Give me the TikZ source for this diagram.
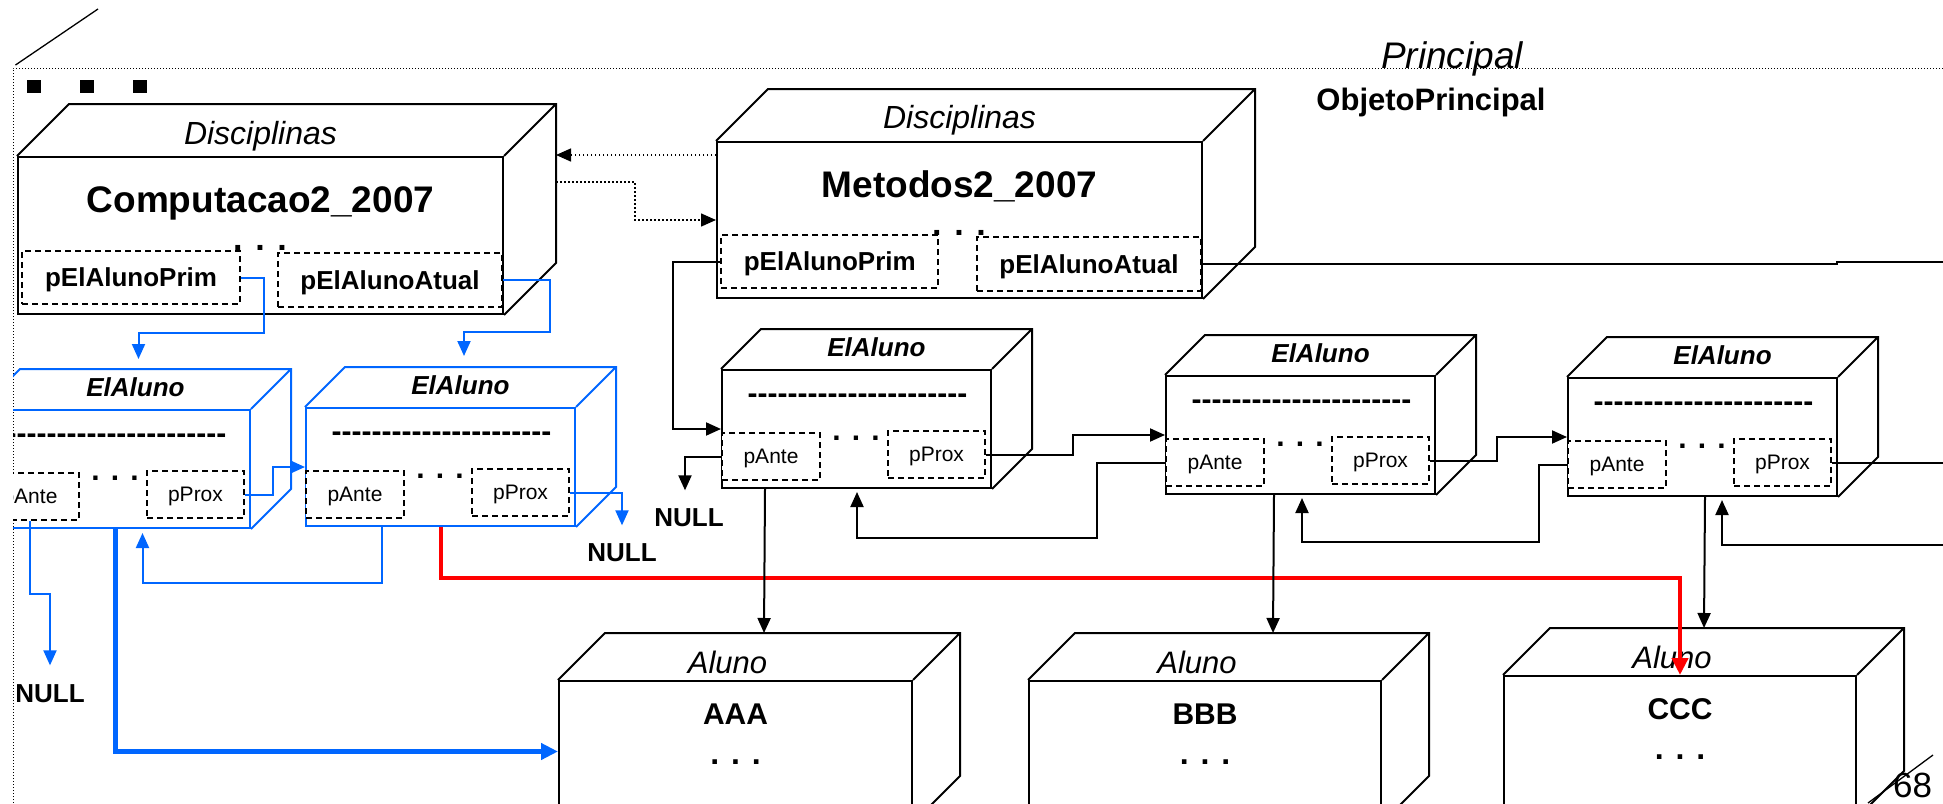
\documentclass[tikz,border=0pt]{standalone}
\usepackage{fontspec}
\setmainfont{Liberation Sans}
\usetikzlibrary{arrows.meta,calc}
\definecolor{elblue}{RGB}{0,102,255}
\definecolor{elred}{RGB}{255,0,0}
\newcommand{\fsz}[1]{\fontsize{#1pt}{#1pt}\selectfont}
\newcommand{\hyphenrow}{\foreach \k in {1,...,22}{-\kern0pt}}
\newcommand{\backfaces}[3][]{%
  \draw[cubeline,#1] (#2.north west) -- ++(#3,-#3) coordinate (#2-back)
    -| ($(#2.south east)+(#3,-#3)$) -- (#2.south east)
    (#2.north east) -- ++(#3,-#3);}
\tikzset{cubeline/.style={line width=2pt},
         face/.style={draw,cubeline,inner sep=0pt},
         toplabel/.style={anchor=base,inner sep=0pt,font=\fsz{32}\itshape},
         bigname/.style={anchor=base,inner sep=0pt,font=\fsz{37}\bfseries},
         bigdots/.style={anchor=base,inner sep=0pt,font=\fsz{34}\bfseries},
         fieldbox/.style={draw,line width=1.8pt,dash pattern=on 6pt off 4pt,fill=white,
                          inner sep=0pt,text depth=0pt},
         ptrbig/.style={fieldbox,font=\fsz{26}\bfseries},
         antebox/.style={fieldbox,font=\fsz{21},minimum width=98pt,minimum height=47pt},
         proxbox/.style={fieldbox,font=\fsz{21},minimum width=97pt,minimum height=47pt},
         elface/.style={face,minimum width=269pt,minimum height=118pt},
         elname/.style={anchor=base,inner sep=0pt,font=\fsz{26}\bfseries\itshape},
         elrow/.style={anchor=base,inner sep=0pt,font=\fsz{30}\bfseries},
         eldots/.style={anchor=base,inner sep=0pt,font=\fsz{30}\bfseries},
         alface/.style={face,minimum width=352pt,minimum height=141pt},
         allabel/.style={anchor=base,inner sep=0pt,font=\fsz{31}\itshape},
         alname/.style={anchor=base,inner sep=0pt,font=\fsz{30}\bfseries},
         aldots/.style={anchor=base,inner sep=0pt,font=\fsz{32}\bfseries},
         nulltext/.style={inner sep=0pt,text depth=0pt,font=\fsz{26}\bfseries},
         frameline/.style={line width=1pt,dash pattern=on 1pt off 2pt},
         link/.style={line width=2pt},
         linkarrow/.style={link,-{Triangle[length=15pt,width=13pt]}},
         bluearrow/.style={linkarrow,elblue},
         dotarrow/.style={line width=1.5pt,dash pattern=on 1.5pt off 2.5pt,
                          -{Triangle[length=15pt,width=13pt]}},
         heavyarrow/.style={line width=4.5pt,-{Triangle[length=17pt,width=16pt]}}}

\begin{document}
\begin{tikzpicture}[x=1pt,y=-1pt]
  \useasboundingbox (0,0) rectangle (1943,803);
  \clip (0,0) rectangle (1943,803);
  % slide frame
  \draw[line width=1.3pt] (15.5,65) -- (98,9);
  \draw[line width=1.3pt] (1868,803) -- (1933,755);
  \draw[frameline] (13,803) -- (13,68) -- (1943,68);
  \fill (27,80) rectangle (41,93);
  \fill (80,80) rectangle (94,93);
  \fill (133,80) rectangle (147,93);
  \node[anchor=base,font=\fsz{37}\itshape] (princ) at (1452,68) {Principal};
  \node[anchor=base,font=\fsz{31}\bfseries] (objp) at (1431,110) {ObjetoPrincipal};
  \node[anchor=base,font=\fsz{35}] (pgno) at (1912.5,797) {68};
  \coordinate (edgeA) at (1943,262);
  \coordinate (edgeB) at (1943,462.5);
  \coordinate (edgeC) at (1943,544.5);

  % Disciplinas objects
  \node[face,minimum width=485pt,minimum height=157pt] (c) at (260.5,235.5) {};
  \backfaces{c}{52}
  \node[toplabel] (cname) at (260.5,144) {Disciplinas};
  \node[bigname] (ctitle) at (260.5,212) {Computacao2\_2007};
  \node[bigdots] (cdots) at (260,250) {. . .};
  \node[ptrbig,minimum width=218pt,minimum height=53pt] (cprim) at (131,277.5) {pElAlunoPrim};
  \node[ptrbig,minimum width=224pt,minimum height=54pt] (catual) at (390,280) {pElAlunoAtual};

  \node[face,minimum width=485pt,minimum height=156pt] (m) at (959.5,220) {};
  \backfaces{m}{52}
  \node[toplabel] (mname) at (959.5,128) {Disciplinas};
  \node[bigname] (mtitle) at (959.5,197) {Metodos2\_2007};
  \node[bigdots] (mdots) at (959,235) {. . .};
  \node[ptrbig,minimum width=217pt,minimum height=53pt] (mprim) at (829.75,261.5) {pElAlunoPrim};
  \node[ptrbig,minimum width=224pt,minimum height=54pt] (matual) at (1089,264) {pElAlunoAtual};

  % ElAluno list of Computacao2_2007 (blue)
  \begin{scope}
    \clip (13,0) rectangle (700,803);
    \node[elface,elblue] (e1) at (115.5,469) {};
    \backfaces[elblue]{e1}{40}
    \node[elname] (e1name) at (135.5,396.5) {ElAluno};
    \node[elrow] (e1row) at (116.5,443) {\hyphenrow};
    \node[eldots] (e1dots) at (115,480) {. . .};
    \node[antebox] (e1a) at (30,496.5) {pAnte};
    \node[proxbox] (e1p) at (195.5,494.5) {pProx};
  \end{scope}
  \node[elface,elblue] (e2) at (440.5,467) {};
  \backfaces[elblue]{e2}{40}
  \node[elname] (e2name) at (460.5,394.5) {ElAluno};
  \node[elrow] (e2row) at (441.5,441) {\hyphenrow};
  \node[eldots] (e2dots) at (440,478) {. . .};
  \node[antebox] (e2a) at (355,494.5) {pAnte};
  \node[proxbox] (e2p) at (520.5,492.5) {pProx};

  % ElAluno list of Metodos2_2007
  \node[elface] (e3) at (856.5,429) {};
  \backfaces{e3}{40}
  \node[elname] (e3name) at (876.5,356.5) {ElAluno};
  \node[elrow] (e3row) at (857.5,403) {\hyphenrow};
  \node[eldots] (e3dots) at (856,440) {. . .};
  \node[antebox] (e3a) at (771,456.5) {pAnte};
  \node[proxbox] (e3p) at (936.5,454.5) {pProx};

  \node[elface] (e4) at (1300.5,435) {};
  \backfaces{e4}{40}
  \node[elname] (e4name) at (1320.5,362.5) {ElAluno};
  \node[elrow] (e4row) at (1301.5,409) {\hyphenrow};
  \node[eldots] (e4dots) at (1300,446) {. . .};
  \node[antebox] (e4a) at (1215,462.5) {pAnte};
  \node[proxbox] (e4p) at (1380.5,460.5) {pProx};

  \node[elface] (e5) at (1702.5,437) {};
  \backfaces{e5}{40}
  \node[elname] (e5name) at (1722.5,364.5) {ElAluno};
  \node[elrow] (e5row) at (1703.5,411) {\hyphenrow};
  \node[eldots] (e5dots) at (1702,448) {. . .};
  \node[antebox] (e5a) at (1617,464.5) {pAnte};
  \node[proxbox] (e5p) at (1782.5,462.5) {pProx};

  % Aluno objects
  \node[alface,minimum width=353pt] (a1) at (735.5,751.5) {};
  \backfaces{a1}{47}
  \node[allabel] (a1label) at (727.5,673) {Aluno};
  \node[alname] (a1name) at (735.5,724) {AAA};
  \node[aldots] (a1dots) at (735.5,764) {. . .};

  \node[alface] (a2) at (1205,751.5) {};
  \backfaces{a2}{47}
  \node[allabel] (a2label) at (1197,673) {Aluno};
  \node[alname] (a2name) at (1205,724) {BBB};
  \node[aldots] (a2dots) at (1205,764) {. . .};

  \node[alface] (a3) at (1680,746.5) {};
  \backfaces{a3}{47}
  \node[allabel] (a3label) at (1672,668) {Aluno};
  \node[alname] (a3name) at (1680,719) {CCC};
  \node[aldots] (a3dots) at (1680,759) {. . .};

  \node[nulltext] (n1) at (50,693.5) {NULL};
  \node[nulltext] (n2) at (622,552.5) {NULL};
  \node[nulltext] (n3) at (689,517.5) {NULL};

  % pointers
  \draw[bluearrow] (cprim.east) -| ($(cprim.east)+(23,55)$) -| ($(e1.north)+(23,-50)$);
  \draw[bluearrow] (catual.east) -| ($(catual.east)+(47,52)$) -| ($(e2.north)+(23.5,-51)$);
  \draw[dotarrow] ($(m.north west)+(0,14)$) -- ($(c.north east)+(52,-1)$);
  \draw[dotarrow] ($(c.north east)+(52,26)$) -| ($(m.west)+(-81,0)$) -- (m.west);
  \draw[linkarrow] (mprim.west) -| ($(e3.west)+(-48,0)$) -- (e3.west);
  \draw[link] (matual.east) -| ($(edgeA)+(-106,0)$) -- (edgeA);

  \draw[bluearrow] (e1p.east) -| ($(e2.west)+(-32,0)$) -- (e2.west);
  \draw[bluearrow] (e1a.south) -- ++(0,73) -| ($(n1.north)+(0,-19)$);
  \draw[heavyarrow,elblue] (e1.south) |- (a1.west);
  \draw[bluearrow] ($(e2.south)+(-58.5,0)$) -- ++(0,56) -| ($(e1.south)+(27,4)$);
  \draw[bluearrow] (e2p.east) -| ($(n2.north)+(0,-18)$);
  \draw[heavyarrow,elred] ($(e2.south)+(0.5,0)$) -- ++(0,51) -| (a3.north);

  \draw[linkarrow] (e3a.west) -| ($(n3.north)+(-4,-18)$);
  \draw[linkarrow] (e3p.east) -| ($(e4.west)+(-92,0)$) -- (e4.west);
  \draw[linkarrow] (e4a.west) -| ($(e4a.west)+(-68,75)$) -| ($(e3.south)+(0.5,3)$);
  \draw[linkarrow] (e4p.east) -| ($(e5.west)+(-70,0)$) -- (e5.west);
  \draw[linkarrow] (e5a.west) -| ($(e5a.west)+(-28,77.5)$) -| ($(e4.south)+(1.5,3)$);
  \draw[link] (e5p.east) -- (edgeB);
  \draw[linkarrow] (edgeC) -| ($(e5.south)+(19.5,3)$);

  \draw[linkarrow] ($(e3.south)+(-91.5,0)$) -- ($(a1-back)+(159,0)$);
  \draw[linkarrow] ($(e4.south)+(-26.5,0)$) -- ($(a2-back)+(198,0)$);
  \draw[linkarrow] ($(e5.south)+(2.5,0)$) -- ($(a3-back)+(154,0)$);
\end{tikzpicture}
\end{document}
